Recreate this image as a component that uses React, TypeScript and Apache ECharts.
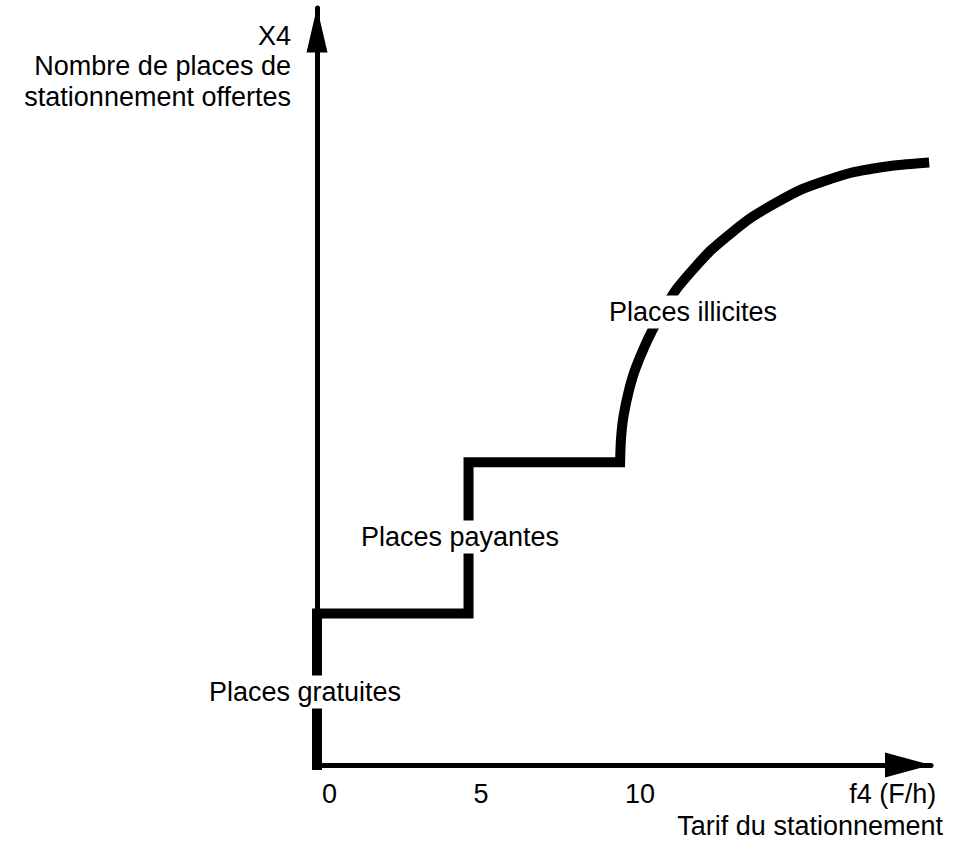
import React, { useEffect, useRef } from 'react';
import * as echarts from 'echarts';

// Step part of the supply curve (tarif f4, places X4 in relative units)
const stepX = [0, 0, 5, 5, 10];
const stepY = [0, 1, 1, 2, 2];
// Illicit places curve
const curveX = [10, 10.03, 10.11, 10.3, 10.53, 11.06, 11.85, 13.0, 14.36, 15.97, 17.59, 19.04, 20.2];
const curveY = [2, 2.15, 2.3, 2.48, 2.63, 2.87, 3.14, 3.4, 3.62, 3.8, 3.91, 3.96, 3.98];
// Axis tick labels
const xTickValues = [0, 5, 10, 17.4];
const xTickLabels = ['0', '5', '10', 'f4 (F/h)'];
// Titles and annotations
const yTitleLines = ['X4', 'Nombre de places de', 'stationnement offertes'];
const xTitle = 'Tarif du stationnement';
const zoneLabels = ['Places gratuites', 'Places payantes', 'Places illicites'];

export default function App() {
  const ref = useRef<HTMLDivElement>(null);
  useEffect(() => {
    const chart = echarts.init(ref.current!, null, { renderer: 'svg' });
    const font = "'Liberation Sans', Arial, Helvetica, sans-serif";
    const fs = 27;
    const textEl = (text: string, x: number, y: number, align: string, bg?: string) => ({
      type: 'text',
      z: 100,
      style: {
        text,
        x,
        y,
        align,
        verticalAlign: 'middle',
        fill: '#000',
        fontSize: fs,
        fontFamily: font,
        backgroundColor: bg,
        padding: bg ? [3, 5] : 0,
      },
    });
    const yTitleY = [36, 66, 97];
    const zonePos = [
      [305, 692],
      [460, 537],
      [693, 312],
    ];
    const axisLineStyle = { color: '#000', width: 5 };
    chart.setOption({
      animation: false,
      backgroundColor: '#fff',
      grid: { left: 317, right: 27, top: 8, bottom: 76, outerBoundsMode: 'none', containLabel: false },
      xAxis: {
        type: 'value',
        min: 0,
        max: 20.26,
        axisLine: {
          show: true,
          lineStyle: axisLineStyle,
          symbol: ['none', 'triangle'],
          symbolSize: [25, 46],
          symbolOffset: [0, -23],
        },
        axisTick: { show: false },
        splitLine: { show: false },
        axisLabel: {
          customValues: xTickValues,
          formatter: (v: number) => {
            const i = xTickValues.indexOf(v);
            return i >= 0 ? xTickLabels[i] : '';
          },
          align: 'left',
          verticalAlign: 'middle',
          padding: [0, 0, 0, 5],
          margin: 29,
          color: '#000',
          fontSize: fs,
          fontFamily: font,
          showMinLabel: true,
          showMaxLabel: true,
        },
      },
      yAxis: {
        type: 'value',
        min: 0,
        max: 5,
        axisLine: {
          show: true,
          lineStyle: axisLineStyle,
          symbol: ['none', 'triangle'],
          symbolSize: [21, 45],
          symbolOffset: [0, -22],
        },
        axisTick: { show: false },
        splitLine: { show: false },
        axisLabel: { show: false },
      },
      series: [
        {
          type: 'line',
          data: stepX.map((x, i) => [x, stepY[i]]),
          showSymbol: false,
          clip: false,
          lineStyle: { color: '#000', width: 10, cap: 'square', join: 'miter' },
          z: 3,
        },
        {
          type: 'line',
          data: curveX.map((x, i) => [x, curveY[i]]),
          showSymbol: false,
          smooth: 0.2,
          clip: false,
          lineStyle: { color: '#000', width: 10, cap: 'butt', join: 'round' },
          z: 3,
        },
      ],
      graphic: [
        ...yTitleLines.map((t, i) => textEl(t, 291, yTitleY[i], 'right')),
        textEl(xTitle, 943, 826, 'right'),
        ...zoneLabels.map((t, i) => textEl(t, zonePos[i][0], zonePos[i][1], 'center', '#fff')),
      ],
    });
    return () => chart.dispose();
  }, []);
  return (
    <div
      ref={ref}
      style={{ position: 'fixed', left: 0, top: 0, width: 958, height: 841, background: '#fff' }}
    />
  );
}
